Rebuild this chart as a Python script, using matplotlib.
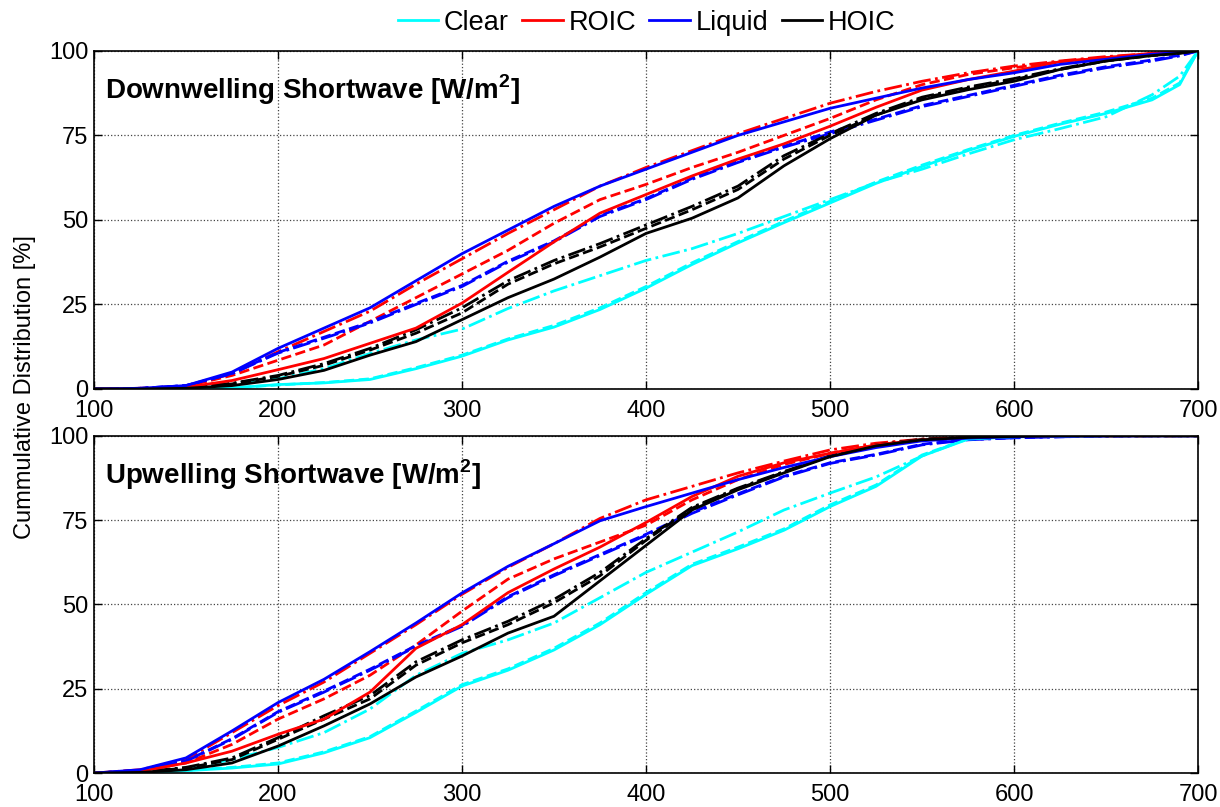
#cumulative distributions of shortwave fluxes
import matplotlib
matplotlib.use('Agg')
import matplotlib.pyplot as plt
from matplotlib.lines import Line2D

plt.rcParams['font.family'] = ['Liberation Sans', 'DejaVu Sans']
plt.rcParams['mathtext.fontset'] = 'custom'
plt.rcParams['mathtext.rm'] = 'Liberation Sans'
plt.rcParams['mathtext.bf'] = 'Liberation Sans:bold'

#x positions (W/m2)
X = [100, 125, 150, 175, 200, 225, 250, 275, 300, 325, 350, 375, 400,
     425, 450, 475, 500, 525, 550, 575, 600, 625, 650, 675, 690, 700]

#downwelling shortwave, cumulative %
dw_clear = [0, 0, 0, 0.3, 1.3, 1.8, 2.8, 6, 9.7, 14.5, 18.3, 23.5, 29.8, 36.8, 43.2, 49.2, 55, 60.8, 65.8, 70.5, 74.7, 78.3, 81.5, 85.5, 90, 100]
dw_clear_dash = [0, 0, 0, 0.3, 1.2, 1.9, 3, 6.3, 10, 14.8, 18.8, 24, 30.3, 37.3, 43.6, 49.6, 55.5, 61.2, 66.2, 70.8, 75, 78.6, 81.9, 86, 90.5, 100]
dw_clear_dd = [0, 0, 0.3, 1.5, 3, 6, 10.5, 14.5, 17.7, 23.8, 29, 33.5, 38, 41.5, 46, 51, 56, 61, 65, 69.5, 73.7, 77, 80.5, 87, 92.5, 100]

dw_roic = [0, 0.1, 0.5, 2.5, 5.7, 9, 13.5, 18, 25.4, 34.5, 43.5, 52, 57.5, 63, 68, 72.5, 77.7, 83.3, 88.4, 91.5, 94, 96.8, 98, 99.3, 99.7, 100]
dw_roic_dash = [0, 0.2, 0.8, 4, 8.5, 13, 20, 27, 34, 41, 49, 56, 60.5, 65.5, 70, 75, 80, 85.5, 90, 93, 95, 96.8, 98, 99, 99.5, 100]
dw_roic_dd = [0, 0.2, 0.8, 4.5, 11, 17, 23, 31, 38.5, 46, 53, 60, 65.5, 70.5, 75.5, 80, 84.5, 88, 91, 93.5, 95.5, 97, 98.3, 99.2, 99.6, 100]

dw_liq = [0, 0.2, 1, 5, 12, 18, 24, 32, 40, 47, 54, 60, 65, 70, 75, 79, 83, 86, 89, 91.5, 93.5, 96, 97.5, 99, 99.5, 100]
dw_liq_dash = [0, 0.2, 1, 4.6, 10.8, 15.3, 19.8, 25.3, 30.6, 37.8, 43.8, 51.3, 56.3, 62.3, 67.3, 71.8, 76, 79.8, 83.8, 86.8, 89.8, 92.8, 95.3, 97.3, 98.7, 100]
dw_liq_dd = [0, 0.2, 1, 4.5, 10.6, 15, 19.5, 25, 30.3, 37.5, 43.5, 51, 56, 62, 67, 71.5, 75.5, 79.5, 83.5, 86.5, 89.5, 92.5, 95, 97, 98.5, 100]

dw_hoic = [0, 0, 0.2, 1, 2.8, 5.5, 10, 14, 20.5, 27, 32.5, 39, 46, 50.5, 56.5, 66, 74, 81, 85.5, 88.5, 91, 94.5, 97, 98.6, 99.3, 100]
dw_hoic_dash = [0, 0, 0.3, 1.5, 3.7, 7, 11.5, 16.5, 22.5, 31, 37, 42, 47.5, 53, 59, 68, 75, 81, 86, 89, 91.5, 94.5, 97, 98.6, 99.3, 100]
dw_hoic_dd = [0, 0, 0.3, 1.7, 4, 7.5, 12, 17.5, 24, 32, 38, 43, 48.5, 54, 60, 69, 75.5, 81.5, 86.3, 89.3, 91.8, 94.7, 97.2, 98.7, 99.4, 100]

#upwelling shortwave, cumulative %
uw_clear = [0, 0, 0.7, 1.5, 2.7, 6, 10.5, 18, 25.8, 30.5, 36.5, 44, 53, 61.5, 66.5, 72, 79, 85, 94, 99, 99.7, 99.9, 100, 100, 100, 100]
uw_clear_dash = [0, 0, 0.8, 1.7, 3, 6.3, 10.8, 18.4, 26.2, 30.9, 37, 44.5, 53.5, 61.9, 67, 72.4, 79.5, 85.4, 94.3, 99.1, 99.7, 99.9, 100, 100, 100, 100]
uw_clear_dd = [0, 0.3, 1.5, 4, 7.6, 12, 19, 29, 35.5, 39.5, 44.5, 52, 59.5, 65.5, 71.5, 78, 83, 87.8, 94, 99.2, 99.7, 99.9, 100, 100, 100, 100]

uw_roic = [0, 0.5, 3, 6.5, 11.5, 16, 24, 37, 44, 53.5, 60.5, 67, 74.3, 82, 88, 92, 94.8, 97.3, 98.8, 99.5, 99.8, 100, 100, 100, 100, 100]
uw_roic_dash = [0, 0.8, 3, 8.5, 16, 22, 29, 38, 48, 57.5, 63.5, 68.5, 73.5, 81, 87, 91.5, 94.8, 97.3, 98.8, 99.5, 99.8, 100, 100, 100, 100, 100]
uw_roic_dd = [0, 1, 4, 12, 20, 27, 35.5, 44, 53, 61, 68, 75.5, 81, 85, 89, 92.5, 95.8, 97.8, 99, 99.6, 99.9, 100, 100, 100, 100, 100]

uw_liq = [0, 1, 4.5, 12.5, 20.9, 27.8, 36, 44.5, 53.4, 61.3, 68, 74.8, 79, 83, 87, 90.6, 93.8, 96.5, 98.5, 99.3, 99.7, 99.9, 100, 100, 100, 100]
uw_liq_dash = [0, 0.8, 3.6, 10.2, 18.2, 24.3, 30.8, 37.8, 43.8, 52.3, 58.8, 64.8, 70.8, 77.3, 82.8, 88, 92, 94.5, 97.5, 98.9, 99.4, 99.7, 99.9, 100, 100, 100]
uw_liq_dd = [0, 0.8, 3.5, 10, 18, 24, 30.5, 37.5, 43.5, 52, 58.5, 64.5, 70.5, 77, 82.5, 87.8, 91.8, 94.3, 97.3, 98.8, 99.4, 99.7, 99.9, 100, 100, 100]

uw_hoic = [0, 0.2, 1, 3, 8, 14, 20.5, 28.5, 34.7, 41.5, 46.5, 57, 67.5, 78, 84, 89, 93.8, 97, 98.8, 99.5, 99.8, 100, 100, 100, 100, 100]
uw_hoic_dash = [0, 0.3, 1.5, 4, 10, 16, 22, 32, 38.6, 44, 50.5, 58.5, 69, 78.5, 84.3, 89.2, 94, 97.2, 98.9, 99.5, 99.8, 100, 100, 100, 100, 100]
uw_hoic_dd = [0, 0.3, 1.7, 4.5, 10.5, 17, 23, 33, 39.5, 45, 51.5, 59.5, 69.5, 78.8, 84.5, 89.4, 94.1, 97.3, 99, 99.6, 99.8, 100, 100, 100, 100, 100]

names = ['Clear', 'ROIC', 'Liquid', 'HOIC']
colors = ['#00FFFF', '#FF0000', '#0000FF', '#000000']

panels = [
    ('Downwelling Shortwave [W/m$^{\\mathbf{2}}$]',
     [dw_clear, dw_roic, dw_liq, dw_hoic],
     [dw_clear_dash, dw_roic_dash, dw_liq_dash, dw_hoic_dash],
     [dw_clear_dd, dw_roic_dd, dw_liq_dd, dw_hoic_dd]),
    ('Upwelling Shortwave [W/m$^{\\mathbf{2}}$]',
     [uw_clear, uw_roic, uw_liq, uw_hoic],
     [uw_clear_dash, uw_roic_dash, uw_liq_dash, uw_hoic_dash],
     [uw_clear_dd, uw_roic_dd, uw_liq_dd, uw_hoic_dd]),
]

fig = plt.figure(figsize=(12.2, 8.07), dpi=100)
boxes = [[0.077, 0.518, 0.905, 0.419], [0.077, 0.042, 0.905, 0.418]]

for box, (title, solid, dashed, dashdot) in zip(boxes, panels):
    ax = fig.add_axes(box)
    for i in range(4):
        ax.plot(X, dashdot[i], color=colors[i], linestyle='-.', linewidth=2)
        ax.plot(X, dashed[i], color=colors[i], linestyle='--', linewidth=2)
    for i in range(4):
        ax.plot(X, solid[i], color=colors[i], linestyle='-', linewidth=2)
    ax.set_xlim(100, 700)
    ax.set_ylim(0, 100)
    ax.set_xticks(range(100, 701, 100))
    ax.set_yticks([0, 25, 50, 75, 100])
    ax.grid(True, linestyle=':', color='#444444', linewidth=0.9)
    ax.tick_params(direction='in', top=True, right=True, length=6,
                   labelsize=17, width=1)
    ax.tick_params(axis='x', pad=8)
    ax.tick_params(axis='y', pad=4)
    for s in ax.spines.values():
        s.set_linewidth(1.2)
    ax.text(0.01, 0.885, title, transform=ax.transAxes, fontsize=20,
            fontweight='bold', va='center', ha='left')

fig.text(0.0205, 0.52, 'Cummulative Distribution [%]', rotation=90,
         fontsize=17, va='center', ha='center')

handles = [Line2D([], [], color=c, linewidth=2) for c in colors]
fig.legend(handles, names, loc='center', bbox_to_anchor=(0.53, 0.972),
           ncol=4, frameon=False, fontsize=19.5, handlelength=1.5,
           handletextpad=0.2, columnspacing=0.5)

fig.savefig('out.png', dpi=100)
